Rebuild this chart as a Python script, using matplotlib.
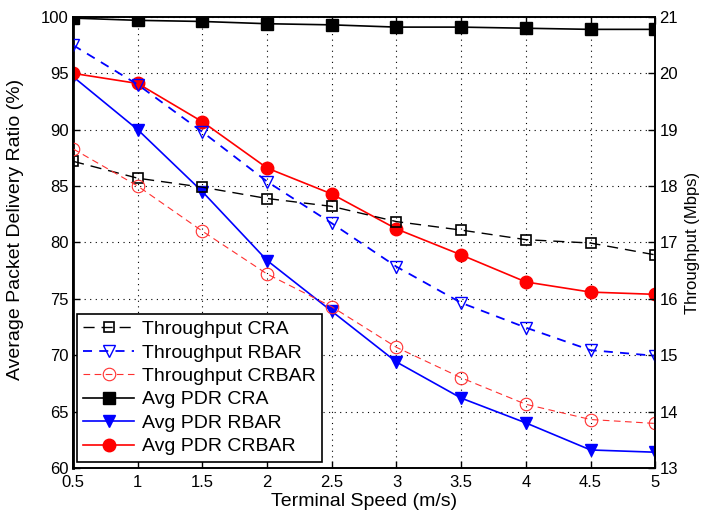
import matplotlib
matplotlib.use("Agg")
import matplotlib.pyplot as plt

plt.rcParams['font.family'] = ['Liberation Sans', 'DejaVu Sans']

speed = [0.5, 1, 1.5, 2, 2.5, 3, 3.5, 4, 4.5, 5]

# Left axis: Average PDR (%)
pdr_cra = [99.9, 99.7, 99.6, 99.4, 99.3, 99.1, 99.1, 99.0, 98.9, 98.9]
pdr_rbar = [94.7, 90.0, 84.5, 78.4, 73.9, 69.4, 66.2, 64.0, 61.6, 61.4]
pdr_crbar = [95.0, 94.1, 90.7, 86.6, 84.3, 81.2, 78.9, 76.5, 75.6, 75.4]

# Right axis: Throughput (Mbps)
thr_cra = [18.44, 18.14, 17.98, 17.78, 17.64, 17.37, 17.22, 17.05, 16.99, 16.78]
thr_rbar = [20.5, 19.8, 18.96, 18.08, 17.34, 16.57, 15.93, 15.49, 15.09, 14.99]
thr_crbar = [18.66, 18.0, 17.2, 16.44, 15.86, 15.14, 14.6, 14.13, 13.86, 13.79]

xticks = [0.5, 1, 1.5, 2, 2.5, 3, 3.5, 4, 4.5, 5]
xticklabels = ['0.5', '1', '1.5', '2', '2.5', '3', '3.5', '4', '4.5', '5']
yticks_left = [60, 65, 70, 75, 80, 85, 90, 95, 100]
yticks_right = [13, 14, 15, 16, 17, 18, 19, 20, 21]

fig = plt.figure(figsize=(7.03, 5.14), dpi=100)
ax = fig.add_axes([0.104, 0.0895, 0.828, 0.8775])
ax2 = ax.twinx()

# PDR lines on left axis
l4, = ax.plot(speed, pdr_cra, '-', color='black', marker='s', markersize=8,
              linewidth=1.2, label='Avg PDR CRA')
l5, = ax.plot(speed, pdr_rbar, '-', color='blue', marker='v', markersize=9,
              linewidth=1.2, label='Avg PDR RBAR')
l6, = ax.plot(speed, pdr_crbar, '-', color='red', marker='o', markersize=9,
              linewidth=1.2, label='Avg PDR CRBAR')

# Throughput lines on right axis
l1, = ax2.plot(speed, thr_cra, '--', color='black', marker='s', markersize=7,
               markerfacecolor='none', markeredgewidth=1.2, linewidth=1.0,
               dashes=(8, 5), label='Throughput CRA')
l2, = ax2.plot(speed, thr_rbar, '--', color='blue', marker='v', markersize=9,
               markerfacecolor='none', markeredgewidth=1.0, linewidth=1.3,
               dashes=(5, 4), label='Throughput RBAR')
l3, = ax2.plot(speed, thr_crbar, '--', color='#ff3030', marker='o', markersize=9,
               markerfacecolor='none', markeredgewidth=0.8, linewidth=0.8,
               dashes=(6, 4), label='Throughput CRBAR')

ax.set_xlim(0.5, 5)
ax.set_ylim(60, 100)
ax2.set_ylim(13, 21)
ax.set_xticks(xticks)
ax.set_xticklabels(xticklabels)
ax.set_yticks(yticks_left)
ax2.set_yticks(yticks_right)

ax.grid(True, color='black', linestyle=(0, (1, 4)), linewidth=0.8)
ax.set_axisbelow(True)

for a in (ax, ax2):
    a.tick_params(direction='in', labelsize=12, length=5, width=1,
                  top=True, colors='black')
    for sp in a.spines.values():
        sp.set_linewidth(1.2)
ax.spines['left'].set_linewidth(2)
ax.tick_params(axis='x', pad=5)
ax.tick_params(axis='y', right=False, pad=3)
ax2.tick_params(axis='y', pad=3)

ax.set_xlabel('Terminal Speed (m/s)', fontsize=14, labelpad=2)
ax.set_ylabel('Average Packet Delivery Ratio (%)', fontsize=14)
ax.yaxis.set_label_coords(-0.085, 0.53)
ax2.set_ylabel('Throughput (Mbps)', fontsize=12)
ax2.yaxis.set_label_coords(1.051, 0.5)

leg = ax2.legend(handles=[l1, l2, l3, l4, l5, l6], loc='lower left',
                 bbox_to_anchor=(0.006, 0.013), fontsize=14, frameon=True,
                 fancybox=False, framealpha=1, edgecolor='black',
                 handlelength=2.6, handletextpad=0.4, borderpad=0.35,
                 labelspacing=0.3, borderaxespad=0)
leg.get_frame().set_linewidth(1.2)

fig.savefig('out.png', dpi=100)
